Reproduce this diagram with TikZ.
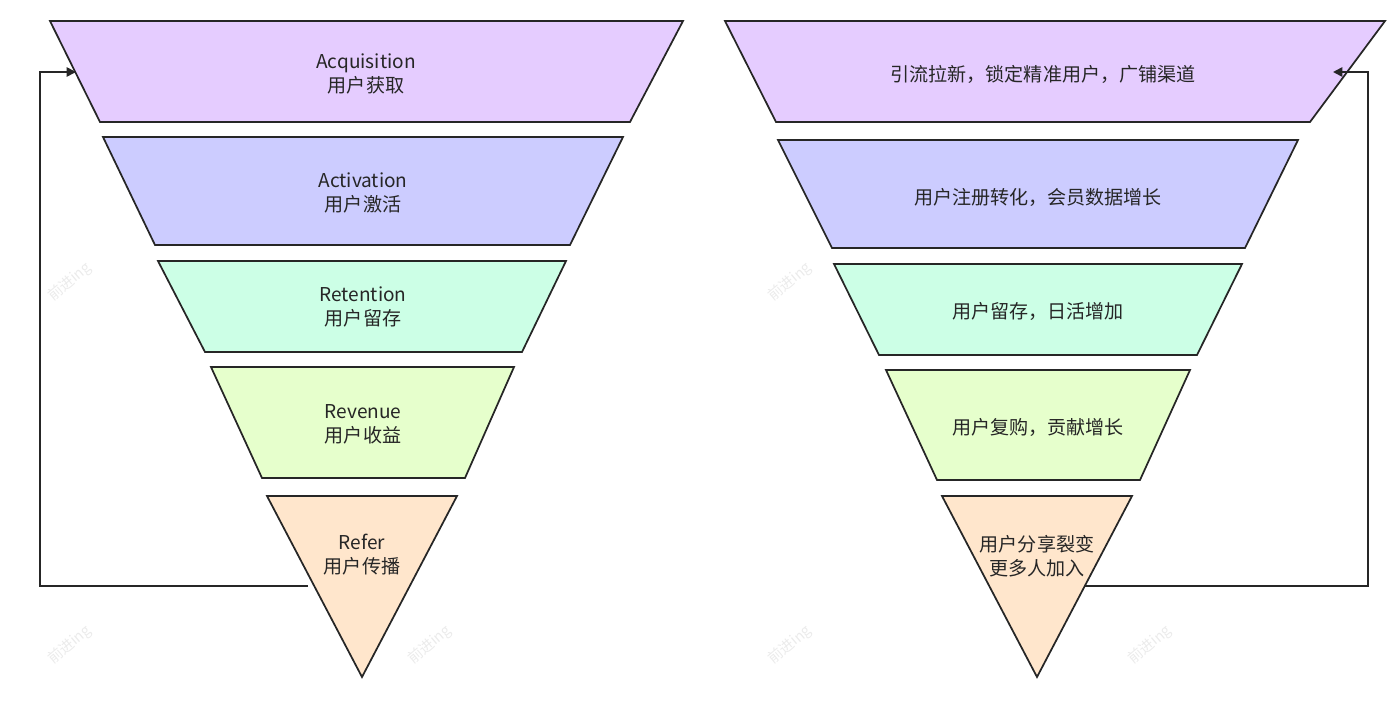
\documentclass[tikz,border=0pt]{standalone}
\usepackage{fontspec}
\setmainfont{Noto Sans CJK SC}
\usetikzlibrary{arrows.meta}
\definecolor{c1}{HTML}{E5CCFF}
\definecolor{c2}{HTML}{CCCCFF}
\definecolor{c3}{HTML}{CCFFE6}
\definecolor{c4}{HTML}{E6FFCC}
\definecolor{c5}{HTML}{FFE6CC}
\tikzset{
 seg/.style={draw=black!85,line width=1.3pt,line join=miter},
 lbl/.style={align=center,font=\fontsize{14.3}{18}\selectfont,text=black!85},
 conn/.style={draw=black!85,line width=1.3pt,-{Triangle[length=7pt,width=7pt]}},
 wm/.style={text=black!8,rotate=40,inner sep=0pt,font=\fontsize{11}{12}\selectfont}
}
\begin{document}
\begin{tikzpicture}[x=0.75pt,y=-0.75pt]
\useasboundingbox (0,0) rectangle (1398,704);
% left funnel
\filldraw[seg,fill=c1] (50,21)--(683,21)--(630,122)--(100,122)--cycle;
\filldraw[seg,fill=c2] (103,137)--(623,137)--(570,245)--(155,245)--cycle;
\filldraw[seg,fill=c3] (158,261)--(566,261)--(522,352)--(205,352)--cycle;
\filldraw[seg,fill=c4] (211,367)--(514,367)--(465,478)--(262,478)--cycle;
\filldraw[seg,fill=c5] (267,496)--(457,496)--(362,677)--cycle;
\node[lbl] (a1) at (366,74) {Acquisition\\用户获取};
\node[lbl] (a2) at (363,193) {Activation\\用户激活};
\node[lbl] (a3) at (363,307) {Retention\\用户留存};
\node[lbl] (a4) at (363,424) {Revenue\\用户收益};
\node[lbl] (a5) at (362,555) {Refer\\用户传播};
\coordinate (ls) at (308,586);
\coordinate (le) at (76,72);
\draw[conn] (ls) -- (40,586) -- (40,72) -- (le);
% right funnel
\filldraw[seg,fill=c1] (725,21)--(1385,21)--(1310,122)--(776,122)--cycle;
\filldraw[seg,fill=c2] (778,140)--(1298,140)--(1245,248)--(832,248)--cycle;
\filldraw[seg,fill=c3] (834,264)--(1242,264)--(1197,355)--(879,355)--cycle;
\filldraw[seg,fill=c4] (886,370)--(1190,370)--(1140,480)--(937,480)--cycle;
\filldraw[seg,fill=c5] (942,496)--(1132,496)--(1037,677)--cycle;
\node[lbl] (b1) at (1043,74) {引流拉新，锁定精准用户，广铺渠道};
\node[lbl] (b2) at (1038,197) {用户注册转化，会员数据增长};
\node[lbl] (b3) at (1038,311) {用户留存，日活增加};
\node[lbl] (b4) at (1038,427) {用户复购，贡献增长};
\node[lbl] (b5) at (1037,556) {用户分享裂变\\更多人加入};
\coordinate (rs) at (1085,586);
\coordinate (re) at (1333,72);
\draw[conn] (rs) -- (1368,586) -- (1368,72) -- (re);
% watermarks
\node[wm] (w1) at (70,282) {前进ing};
\node[wm] (w2) at (790,282) {前进ing};
\node[wm] (w3) at (70,645) {前进ing};
\node[wm] (w4) at (430,645) {前进ing};
\node[wm] (w5) at (790,645) {前进ing};
\node[wm] (w6) at (1150,645) {前进ing};
\end{tikzpicture}
\end{document}
